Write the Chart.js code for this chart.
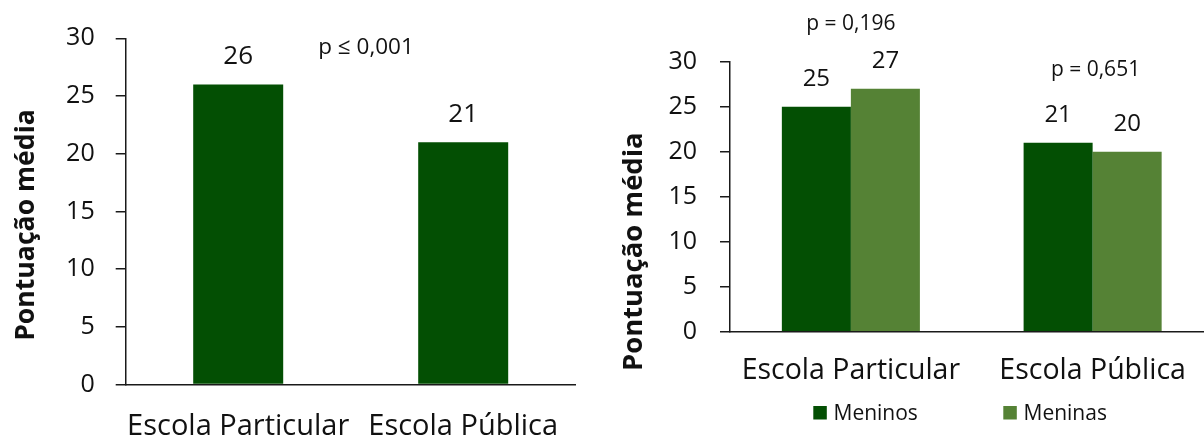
<!DOCTYPE html>
<html lang="pt-BR">
<head>
<meta charset="utf-8">
<script src="https://cdn.jsdelivr.net/npm/chart.js@4.4.1/dist/chart.umd.min.js"></script>
<style>
  html, body { margin: 0; padding: 0; background: #fff; overflow: hidden; width: 1204px; height: 439px; }
  #escola { position: absolute; left: 0; top: 0; }
  #sexo { position: absolute; left: 600px; top: 0; }
</style>
</head>
<body>
<canvas id="escola" width="600" height="439"></canvas>
<canvas id="sexo" width="720" height="439"></canvas>
<script>
// Dados
const categories = ['Escola Particular', 'Escola Pública'];
const mediaGeral = [26, 21];
const mediaMeninos = [25, 21];
const mediaMeninas = [27, 20];
const serieLabels = ['Meninos', 'Meninas'];
const yTicks = [0, 5, 10, 15, 20, 25, 30];
const pValores = ['p ≤ 0,001', 'p = 0,196', 'p = 0,651'];
const yTitulo = 'Pontuação média';

// Estilo
const VERDE_ESCURO = '#034f03';
const VERDE_CLARO = '#558235';
const EIXO = '#1a1a1a';
const TEXTO = '#111';
const FONTE = '"Open Sans", sans-serif';

Chart.defaults.font.family = FONTE;
Chart.defaults.color = TEXTO;

// Valor escrito acima de cada barra
const rotuloValores = {
  id: 'rotuloValores',
  afterDatasetsDraw(chart, args, opts) {
    const ctx = chart.ctx;
    ctx.save();
    ctx.font = opts.size + 'px ' + FONTE;
    ctx.fillStyle = TEXTO;
    ctx.textAlign = 'center';
    ctx.textBaseline = 'alphabetic';
    chart.data.datasets.forEach((ds, i) => {
      chart.getDatasetMeta(i).data.forEach((bar, j) => {
        ctx.fillText(String(ds.data[j]), bar.x, bar.y - opts.offset);
      });
    });
    ctx.restore();
  }
};

// Notas de significância (p) posicionadas nas escalas do gráfico
const notas = {
  id: 'notas',
  afterDatasetsDraw(chart, args, opts) {
    const ctx = chart.ctx;
    ctx.save();
    ctx.fillStyle = TEXTO;
    ctx.textAlign = 'center';
    ctx.textBaseline = 'alphabetic';
    (opts.items || []).forEach(n => {
      ctx.font = n.size + 'px ' + FONTE;
      ctx.fillText(n.text, chart.scales.x.getPixelForValue(n.x), chart.scales.y.getPixelForValue(n.y));
    });
    ctx.restore();
  }
};

// Título vertical do eixo Y
const tituloY = {
  id: 'tituloY',
  afterDraw(chart, args, opts) {
    const ctx = chart.ctx;
    ctx.save();
    ctx.translate(opts.x, opts.y);
    ctx.rotate(-Math.PI / 2);
    ctx.font = 'bold ' + opts.size + 'px ' + FONTE;
    ctx.fillStyle = TEXTO;
    ctx.textAlign = 'center';
    ctx.textBaseline = 'alphabetic';
    ctx.fillText(opts.text, 0, 0);
    ctx.restore();
  }
};

// Legenda com quadrados coloridos
const legenda = {
  id: 'legenda',
  afterDraw(chart, args, opts) {
    const ctx = chart.ctx;
    ctx.save();
    ctx.font = opts.size + 'px ' + FONTE;
    ctx.textAlign = 'left';
    ctx.textBaseline = 'alphabetic';
    chart.data.datasets.forEach((ds, i) => {
      const x = opts.x[i];
      ctx.fillStyle = ds.backgroundColor;
      ctx.fillRect(x, opts.y - opts.box - 0.5, opts.box, opts.box);
      ctx.fillStyle = TEXTO;
      ctx.fillText(ds.label, x + opts.box + opts.gap, opts.y);
    });
    ctx.restore();
  }
};

function eixoY(largura, padding) {
  return {
    min: 0,
    max: 30,
    afterBuildTicks: s => { s.ticks = yTicks.map(v => ({ value: v })); },
    afterFit: s => { s.width = largura; },
    grid: { drawOnChartArea: false, tickLength: 10, color: EIXO, lineWidth: 1.5 },
    border: { color: EIXO, width: 1.5 },
    ticks: { font: { size: 25 }, color: TEXTO, padding: padding }
  };
}

function eixoX(altura, tamanho, padding) {
  return {
    afterFit: s => { s.height = altura; },
    grid: { display: true, drawOnChartArea: false, drawTicks: false },
    border: { color: EIXO, width: 1.5 },
    ticks: { font: { size: tamanho }, color: TEXTO, padding: padding, maxRotation: 0, autoSkip: false }
  };
}

// Pontuação média por tipo de escola
new Chart(document.getElementById('escola'), {
  type: 'bar',
  data: {
    labels: categories,
    datasets: [{
      label: 'Média',
      data: mediaGeral,
      backgroundColor: VERDE_ESCURO,
      categoryPercentage: 1,
      barPercentage: 0.4
    }]
  },
  options: {
    responsive: false,
    animation: false,
    layout: { padding: { top: 38.3, right: 24.3, bottom: 0, left: 0 } },
    plugins: {
      legend: { display: false },
      tooltip: { enabled: false },
      rotuloValores: { size: 26, offset: 20.3 },
      notas: { items: [{ text: pValores[0], x: 0.568, y: 28.66, size: 22.5 }] },
      tituloY: { text: yTitulo, x: 33.5, y: 225, size: 26.6 }
    },
    scales: {
      x: eixoX(54.5, 29, 24.8),
      y: eixoY(125.7, 21)
    }
  },
  plugins: [rotuloValores, notas, tituloY]
});

// Pontuação média por tipo de escola e sexo
new Chart(document.getElementById('sexo'), {
  type: 'bar',
  data: {
    labels: categories,
    datasets: [
      { label: serieLabels[0], data: mediaMeninos, backgroundColor: VERDE_ESCURO, categoryPercentage: 0.571, barPercentage: 1 },
      { label: serieLabels[1], data: mediaMeninas, backgroundColor: VERDE_CLARO, categoryPercentage: 0.571, barPercentage: 1 }
    ]
  },
  options: {
    responsive: false,
    animation: false,
    layout: { padding: { top: 61.7, right: 106.5, bottom: 0, left: 0 } },
    plugins: {
      legend: { display: false },
      tooltip: { enabled: false },
      rotuloValores: { size: 24, offset: 20.5 },
      notas: {
        items: [
          { text: pValores[1], x: 0, y: 33.52, size: 21 },
          { text: pValores[2], x: 1.012, y: 28.41, size: 21 }
        ]
      },
      tituloY: { text: yTitulo, x: 41.7, y: 251.7, size: 27.4 },
      legenda: { x: [213.3, 403.3], y: 420, box: 13.5, gap: 6.7, size: 21 }
    },
    scales: {
      x: eixoX(107.3, 28.5, 22.3),
      y: eixoY(130, 23)
    }
  },
  plugins: [rotuloValores, notas, tituloY, legenda]
});
</script>
</body>
</html>
